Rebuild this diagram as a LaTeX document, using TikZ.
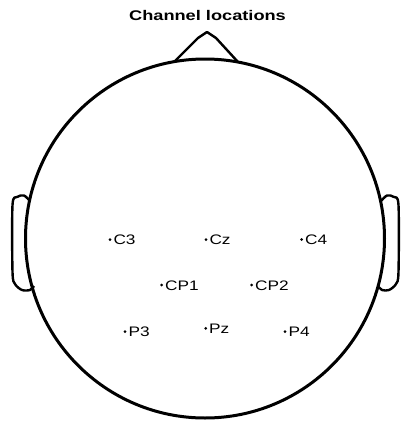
\documentclass[tikz,border=0pt]{standalone}
\usepackage{fontspec}
\setmainfont{Liberation Sans}
\newfontfamily\titlefont[FakeStretch=1.3]{Liberation Sans Bold}
\newfontfamily\labfont[FakeStretch=1.25]{Liberation Sans}
\begin{document}
\begin{tikzpicture}[x=1pt,y=-1pt,
  headline/.style={line width=3pt},
  earline/.style={line width=2.4pt, line join=round},
  elec/.style={fill=black, circle, inner sep=0pt, minimum size=3pt},
  lab/.style={anchor=west, inner sep=0pt, text height=10pt, text depth=0pt, font=\labfont\fontsize{13.8}{15}\selectfont}]
\useasboundingbox (0,0) rectangle (401,421);
\node[font=\titlefont\fontsize{14}{16}\selectfont] (title) at (207.5,15) {Channel locations};
\draw[headline] (205,238.5) circle (179.5);
% nose
\draw[earline] (174,62) -- (198,38) -- (207,32) -- (216,38) -- (238,62);
% left ear
\draw[earline] plot[smooth, tension=0.5] coordinates {(30,201) (24,195.5) (17,197) (12.5,205) (12.5,272) (15,284) (22,290) (30,290) (34,286)};
% right ear
\draw[earline] plot[smooth, tension=0.5] coordinates {(381,201) (387,195.5) (394,197) (398.5,205) (398.5,272) (396,284) (389,290) (382,290) (378,286)};
% electrodes
\foreach \n/\x/\y/\t in {c3/110/239.5/C3, cz/206/239.5/Cz, c4/301.7/239.5/C4, cpa/161.7/285/CP1, cpb/251.7/285/CP2, p3/125/331.7/P3, pz/205.7/328.3/Pz, p4/285/331.7/P4}{
  \node[elec] (\n) at (\x,\y) {};
  \node[lab] (\n-l) at ([xshift=1.6pt]\n.east) {\t};
}
\end{tikzpicture}
\end{document}
